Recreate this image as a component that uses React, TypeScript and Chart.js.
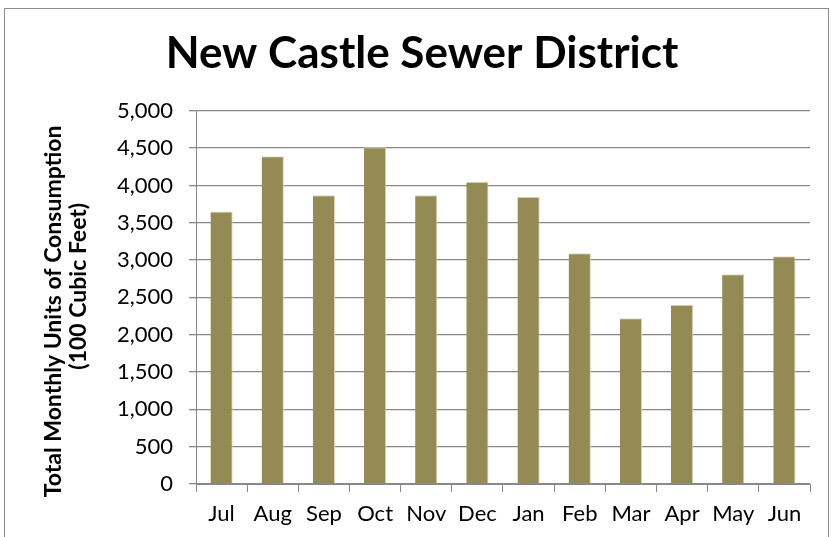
import React, { useEffect, useRef } from "react";
import { Chart, registerables } from "chart.js";

Chart.register(...registerables);

const months = ["Jul", "Aug", "Sep", "Oct", "Nov", "Dec", "Jan", "Feb", "Mar", "Apr", "May", "Jun"];
const consumption = [3650, 4390, 3870, 4510, 3870, 4050, 3850, 3090, 2220, 2400, 2810, 3050];
const yTicks = [0, 500, 1000, 1500, 2000, 2500, 3000, 3500, 4000, 4500, 5000];
const yTitleLines = ["Total Monthly Units of Consumption     ", "    (100 Cubic Feet)"];

const FONT = "Lato, 'Open Sans', sans-serif";

const borderPlugin = {
  id: "outerBorder",
  beforeDraw(chart: any) {
    const ctx = chart.ctx;
    ctx.save();
    ctx.fillStyle = "#ffffff";
    ctx.fillRect(0, 0, chart.width, chart.height);
    ctx.strokeStyle = "#8c8c8c";
    ctx.lineWidth = 1;
    ctx.strokeRect(4.5, 8.5, chart.width - 7, chart.height + 10);
    ctx.restore();
  },
};

export default function App() {
  const ref = useRef<HTMLCanvasElement>(null);
  useEffect(() => {
    document.body.style.margin = "0";
    const chart = new Chart(ref.current!, {
      type: "bar",
      data: {
        labels: months,
        datasets: [
          {
            data: consumption,
            backgroundColor: "#948A54",
            borderColor: "#ddd8bd",
            borderWidth: { top: 1, right: 1, left: 0, bottom: 0 },
            categoryPercentage: 1,
            barPercentage: 0.435,
          },
        ],
      },
      options: {
        responsive: false,
        animation: false,
        layout: { padding: { left: 34, right: 21, top: 0, bottom: 0 } },
        plugins: {
          legend: { display: false },
          tooltip: { enabled: false },
          title: {
            display: true,
            text: "New Castle Sewer District",
            color: "#000",
            font: { family: FONT, size: 44, weight: 700, lineHeight: 1.2 },
            padding: { top: 27, bottom: 31 },
          },
        },
        scales: {
          x: {
            grid: { drawOnChartArea: false, drawTicks: true, tickLength: 8, offset: true, color: "#888" },
            border: { color: "#888", width: 1 },
            ticks: { color: "#000", font: { family: FONT, size: 22 }, padding: 9, maxRotation: 0 },
            afterFit: (s: any) => { s.height = 53; },
          },
          y: {
            min: 0,
            max: 5000,
            afterBuildTicks: (s: any) => { s.ticks = yTicks.map((v) => ({ value: v })); },
            grid: { color: "#888", lineWidth: 1.3, drawTicks: true, tickLength: 7 },
            border: { color: "#888", width: 1 },
            ticks: {
              color: "#000",
              font: { family: FONT, size: 22 },
              padding: 16,
              callback: (v: any) => Number(v).toLocaleString("en-US"),
            },
            title: {
              display: true,
              text: yTitleLines,
              color: "#000",
              font: { family: FONT, size: 23, weight: "bold", lineHeight: 1.08 },
              padding: { top: 7, bottom: 10 },
            },
            afterFit: (s: any) => { s.width = 162; },
          },
        },
      },
      plugins: [borderPlugin],
    });
    return () => chart.destroy();
  }, []);
  return <canvas ref={ref} width={831} height={537} style={{ display: "block" }} />;
}
